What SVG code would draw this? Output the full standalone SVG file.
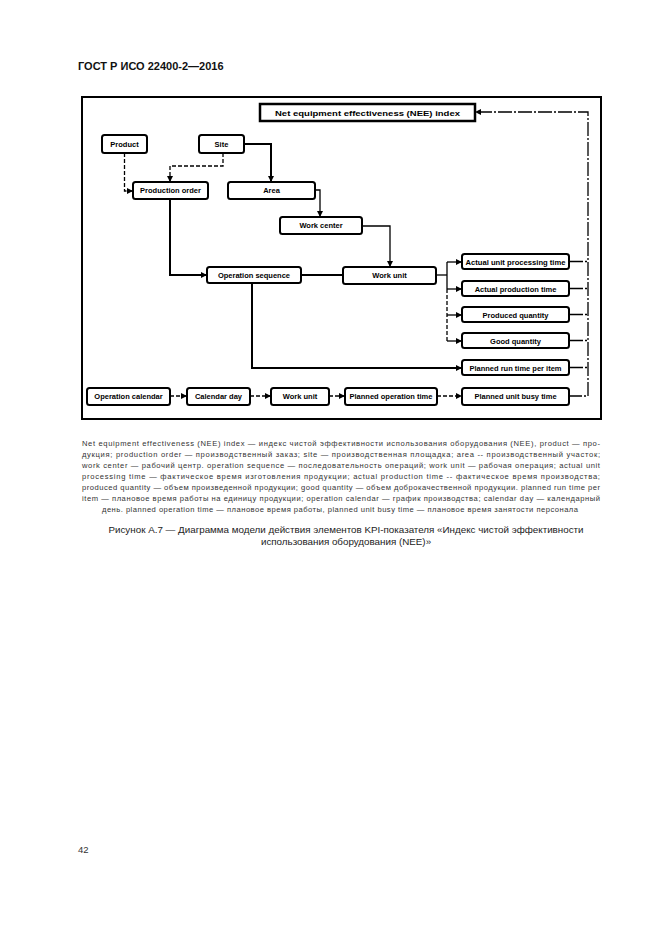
<svg xmlns="http://www.w3.org/2000/svg" width="661" height="935" viewBox="0 0 661 935">
<style>
.bx{fill:#fff;stroke:#000;stroke-width:2}
.bt{font-family:"Liberation Sans",Arial,sans-serif;font-weight:bold;font-size:7.5px;text-anchor:middle;fill:#000}
.c{fill:none;stroke:#000;stroke-width:1.3}
.th{stroke-width:2}
.d{stroke-dasharray:4 2}
.dd{stroke-dasharray:14 2 2 2}
.p{font-family:"Liberation Sans",Arial,sans-serif;font-size:7.6px;fill:#333}
.cap{font-family:"Liberation Sans",Arial,sans-serif;font-size:9.8px;fill:#222;text-anchor:middle}
</style>
<defs>
<marker id="a" markerUnits="userSpaceOnUse" markerWidth="6" markerHeight="6" refX="6" refY="3" orient="auto"><path d="M0,0 L6,3 L0,6 z" fill="#000"/></marker>
</defs>
<rect width="661" height="935" fill="#fff"/>
<text x="78" y="70" font-family="'Liberation Sans',Arial,sans-serif" font-weight="bold" font-size="11" fill="#111">ГОСТ Р ИСО 22400-2—2016</text>
<rect x="82" y="97" width="519" height="322" fill="none" stroke="#000" stroke-width="2"/>
<g id="connectors">
<path class="c d" d="M124.5 153 V191 H133" marker-end="url(#a)"/>
<path class="c d" d="M223 153 V166 H170 V182" marker-end="url(#a)"/>
<path class="c th" d="M244 144 H271 V182" marker-end="url(#a)"/>
<path class="c" d="M315 190 H320 V217" marker-end="url(#a)"/>
<path class="c" d="M362 226 H390 V267" marker-end="url(#a)"/>
<path class="c th" d="M170 199 V275 H207" marker-end="url(#a)"/>
<path class="c th" d="M301 275 H343"/>
<path class="c th" d="M252 283 V368 H462" marker-end="url(#a)"/>
<path class="c" d="M436 275 H447"/>
<path class="c" d="M447 262 V289"/>
<path class="c d" d="M447 289 V341"/>
<path class="c" d="M447 262 H462" marker-end="url(#a)"/>
<path class="c" d="M447 289 H462" marker-end="url(#a)"/>
<path class="c" d="M447 315 H462" marker-end="url(#a)"/>
<path class="c" d="M447 341 H462" marker-end="url(#a)"/>
<path class="c dd" d="M569 261.5 H588"/>
<path class="c dd" d="M569 288.5 H588"/>
<path class="c dd" d="M569 314.5 H588"/>
<path class="c dd" d="M569 340.5 H588"/>
<path class="c dd" d="M569 367.5 H588"/>
<path class="c dd" d="M568 396 H588 V112 H475" marker-end="url(#a)"/>
<path class="c d" d="M170 396 H187" marker-end="url(#a)"/>
<path class="c d" d="M250 396 H271" marker-end="url(#a)"/>
<path class="c d" d="M329 396 H345" marker-end="url(#a)"/>
<path class="c d" d="M437 396 H462" marker-end="url(#a)"/>
</g>
<g id="nee"><rect x="260" y="104" width="215" height="17" fill="#fff" stroke="#000" stroke-width="2.5"/><text class="bt" x="367.5" y="115.5" font-size="8.5" textLength="185" lengthAdjust="spacingAndGlyphs">Net equipment effectiveness (NEE) index</text></g>
<g id="product"><rect class="bx" x="102" y="135" width="45" height="18" rx="2.5"/><text class="bt" x="124.5" y="146.5">Product</text></g>
<g id="site"><rect class="bx" x="199" y="135" width="45" height="18" rx="2.5"/><text class="bt" x="221.5" y="146.5">Site</text></g>
<g id="production-order"><rect class="bx" x="133" y="182" width="75" height="17" rx="2.5"/><text class="bt" x="170.5" y="193">Production order</text></g>
<g id="area"><rect class="bx" x="228" y="182" width="87" height="17" rx="2.5"/><text class="bt" x="271.5" y="193">Area</text></g>
<g id="work-center"><rect class="bx" x="280" y="217" width="82" height="17" rx="2.5"/><text class="bt" x="321" y="228">Work center</text></g>
<g id="operation-sequence"><rect class="bx" x="207" y="267" width="94" height="16" rx="2.5"/><text class="bt" x="254" y="277.5">Operation sequence</text></g>
<g id="work-unit"><rect class="bx" x="343" y="267" width="93" height="17" rx="2.5"/><text class="bt" x="389.5" y="278">Work unit</text></g>
<g id="actual-unit-processing-time"><rect class="bx" x="462" y="254" width="107" height="15" rx="2.5"/><text class="bt" x="515.5" y="264.5" textLength="100" lengthAdjust="spacingAndGlyphs">Actual unit processing time</text></g>
<g id="actual-production-time"><rect class="bx" x="462" y="281" width="107" height="15" rx="2.5"/><text class="bt" x="515.5" y="291.5">Actual production time</text></g>
<g id="produced-quantity"><rect class="bx" x="462" y="307" width="107" height="15" rx="2.5"/><text class="bt" x="515.5" y="317.5">Produced quantity</text></g>
<g id="good-quantity"><rect class="bx" x="462" y="333" width="107" height="15" rx="2.5"/><text class="bt" x="515.5" y="343.5">Good quantity</text></g>
<g id="planned-run-time-per-item"><rect class="bx" x="462" y="360" width="107" height="15" rx="2.5"/><text class="bt" x="515.5" y="370.5">Planned run time per item</text></g>
<g id="operation-calendar"><rect class="bx" x="87" y="388" width="83" height="17" rx="2.5"/><text class="bt" x="128.5" y="399">Operation calendar</text></g>
<g id="calendar-day"><rect class="bx" x="187" y="388" width="63" height="17" rx="2.5"/><text class="bt" x="218.5" y="399">Calendar day</text></g>
<g id="work-unit-2"><rect class="bx" x="271" y="388" width="58" height="17" rx="2.5"/><text class="bt" x="300" y="399">Work unit</text></g>
<g id="planned-operation-time"><rect class="bx" x="345" y="388" width="92" height="17" rx="2.5"/><text class="bt" x="391" y="399">Planned operation time</text></g>
<g id="planned-unit-busy-time"><rect class="bx" x="462" y="388" width="107" height="17" rx="2.5"/><text class="bt" x="515.5" y="399">Planned unit busy time</text></g>
<g id="legend">
<text class="p" x="82" y="446" textLength="518" lengthAdjust="spacing">Net equipment effectiveness (NEE) index — индекс чистой эффективности использования оборудования (NEE), product — про-</text>
<text class="p" x="82" y="457" textLength="518" lengthAdjust="spacing">дукция; production order — производственный заказ; site — производственная площадка; area -- производственный участок;</text>
<text class="p" x="82" y="468" textLength="518" lengthAdjust="spacing">work center — рабочий центр. operation sequence — последовательность операций; work unit — рабочая операция; actual unit</text>
<text class="p" x="82" y="479" textLength="518" lengthAdjust="spacing">processing time — фактическое время изготовления продукции; actual production time -- фактическое время производства;</text>
<text class="p" x="82" y="490" textLength="518" lengthAdjust="spacing">produced quantity — объем произведенной продукции; good quantity — объем доброкачественной продукции. planned run time per</text>
<text class="p" x="82" y="501" textLength="518" lengthAdjust="spacing">item — плановое время работы на единицу продукции; operation calendar — график производства; calendar day — календарный</text>
<text class="p" x="102" y="512" textLength="476" lengthAdjust="spacing">день. planned operation time — плановое время работы, planned unit busy time — плановое время занятости персонала</text>
</g>
<text class="cap" x="346" y="533">Рисунок А.7 — Диаграмма модели действия элементов KPI-показателя «Индекс чистой эффективности</text>
<text class="cap" x="346" y="545">использования оборудования (NEE)»</text>
<text x="78" y="853" font-family="'Liberation Sans',Arial,sans-serif" font-size="9.5" fill="#333">42</text>
</svg>
